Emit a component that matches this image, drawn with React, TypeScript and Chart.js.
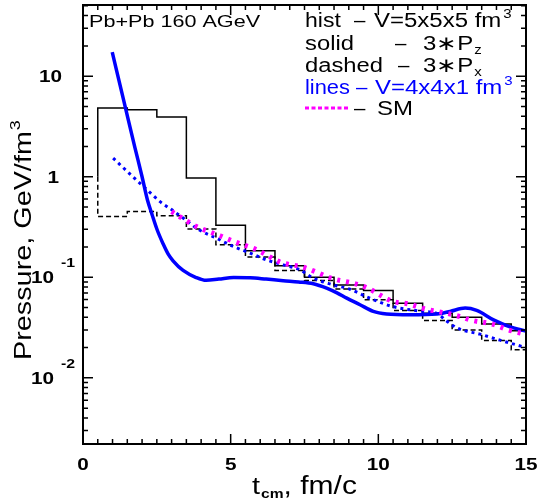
import React, { useEffect, useRef } from 'react';
import { Chart, registerables } from 'chart.js';
Chart.register(...registerables);

// ---------- data ----------
const X_MIN = 0;
const X_MAX = 15;
const Y_MIN = 0.0022;
const Y_MAX = 51;

const binStarts = [0.5, 1.5, 2.5, 3.5, 4.5, 5.5, 6.5, 7.5, 8.5, 9.5, 10.5, 11.5, 12.5, 13.5, 14.5];
const histEdgeLevel = 1.0;
const pzHist = [4.82, 4.64, 3.93, 0.97, 0.329, 0.184, 0.13, 0.1, 0.084, 0.0738, 0.0553, 0.0438, 0.04, 0.0344, 0.0294];
const pxHist = [0.403, 0.452, 0.409, 0.302, 0.211, 0.159, 0.117, 0.093, 0.0763, 0.0597, 0.0468, 0.0372, 0.03, 0.0235, 0.019];

const tPzLines = [0.99, 1.44, 1.76, 2.0, 2.18, 2.34, 2.51, 2.71, 2.88, 3.05, 3.39, 3.83, 4.17, 4.6, 5.1, 5.66, 6.2, 6.78, 7.3, 7.8, 8.25, 8.6, 8.93, 9.38, 9.83, 10.28, 11.07, 11.98, 12.43, 12.94, 13.33, 13.9, 14.46, 15.0];
const pzLines = [17.3, 4.8, 1.94, 1.0, 0.59, 0.419, 0.297, 0.216, 0.171, 0.146, 0.117, 0.0995, 0.0933, 0.096, 0.0995, 0.099, 0.096, 0.0925, 0.09, 0.0863, 0.078, 0.07, 0.0621, 0.0534, 0.0458, 0.0432, 0.0424, 0.0432, 0.0458, 0.0494, 0.0468, 0.0377, 0.0321, 0.0292];

const tPxLines = [1.02, 1.69, 2.2, 2.6, 3.05, 3.39, 3.9, 4.52, 5.05, 5.66, 6.21, 6.78, 7.34, 7.8, 8.48, 9.04, 9.6, 10.5, 11.4, 12.0, 12.3, 12.7, 13.44, 14.12, 15.0];
const pxLines = [1.53, 1.0, 0.726, 0.568, 0.459, 0.388, 0.3, 0.245, 0.205, 0.174, 0.149, 0.133, 0.119, 0.098, 0.084, 0.076, 0.064, 0.051, 0.0462, 0.0435, 0.037, 0.031, 0.0272, 0.0237, 0.02];

const tSM = [3.0, 3.84, 4.64, 5.09, 5.88, 6.67, 7.5, 8.5, 9.15, 9.6, 10.5, 11.0, 11.64, 12.0, 12.77, 13.1, 13.9, 14.4, 15.0];
const smValues = [0.45, 0.32, 0.259, 0.228, 0.188, 0.142, 0.125, 0.096, 0.0874, 0.079, 0.0575, 0.0545, 0.048, 0.0458, 0.0407, 0.0377, 0.034, 0.03, 0.027];

const xTickValues = [0, 5, 10, 15];
const xTickLabels = ['0', '5', '10', '15'];
const yTickValues = [10, 1, 0.1, 0.01];
const yTickBases = ['10', '1', '10', '10'];
const yTickExps = ['', '', '-1', '-2'];

const titleText = 'Pb+Pb 160 AGeV';
const yTitle = 'Pressure, GeV/fm';
const yTitleSup = '3';
const legendNames = ['hist', 'solid', 'dashed', 'lines', ''];
const legendDescs = ['V=5x5x5 fm', '3\u2217P', '3\u2217P', 'V=4x4x1 fm', 'SM'];
const legendSubs = ['', 'z', 'x', '', ''];
const legendSups = ['3', '', '', '3', ''];
const legendColors = ['#000000', '#000000', '#000000', '#0000ff', '#000000'];

const BLUE = '#0000ff';
const MAGENTA = '#ff00ff';

// ---------- helpers ----------
const FONT = '"Liberation Sans", Arial, Helvetica, sans-serif';

function drawText(
  ctx: CanvasRenderingContext2D,
  s: string,
  x: number,
  y: number,
  size: number,
  o: { bold?: boolean; color?: string; sx?: number; align?: CanvasTextAlign } = {}
) {
  const sx = o.sx ?? 1;
  ctx.save();
  ctx.font = `${o.bold ? 'bold ' : ''}${size}px ${FONT}`;
  ctx.fillStyle = o.color ?? '#000';
  ctx.textAlign = o.align ?? 'left';
  ctx.textBaseline = 'alphabetic';
  ctx.translate(x, y);
  ctx.scale(sx, 1);
  ctx.fillText(s, 0, 0);
  const w = ctx.measureText(s).width * sx;
  ctx.restore();
  return w;
}

function histPoints(vals: number[]) {
  const pts = [{ x: binStarts[0], y: histEdgeLevel }];
  vals.forEach((v, i) => pts.push({ x: binStarts[i], y: v }));
  pts.push({ x: X_MAX, y: vals[vals.length - 1] });
  return pts;
}

function curvePoints(ts: number[], vs: number[]) {
  return ts.map((t, i) => ({ x: t, y: vs[i] }));
}

const framePlugin = {
  id: 'rootFrame',
  afterDraw(chart: any) {
    const ctx: CanvasRenderingContext2D = chart.ctx;
    const { left, right, top, bottom } = chart.chartArea;
    const xs = chart.scales.x;
    const ys = chart.scales.y;

    ctx.save();
    ctx.strokeStyle = '#000';
    ctx.lineWidth = 2;
    ctx.strokeRect(left, top, right - left, bottom - top);

    ctx.lineWidth = 1.5;
    ctx.beginPath();
    for (let i = 0; i <= 30; i++) {
      const v = i * 0.5;
      const px = xs.getPixelForValue(v);
      const len = i % 10 === 0 ? 10 : 5;
      ctx.moveTo(px, bottom);
      ctx.lineTo(px, bottom - len);
      ctx.moveTo(px, top);
      ctx.lineTo(px, top + len);
    }
    for (let e = -3; e <= 1; e++) {
      for (let k = 1; k <= 9; k++) {
        const v = k * Math.pow(10, e);
        if (v < Y_MIN || v > Y_MAX) continue;
        const py = ys.getPixelForValue(v);
        const len = k === 1 ? 10 : 5;
        ctx.moveTo(left, py);
        ctx.lineTo(left + len, py);
        ctx.moveTo(right, py);
        ctx.lineTo(right - len, py);
      }
    }
    ctx.stroke();
    ctx.restore();

    const sxT = 1.22;
    xTickValues.forEach((v, i) => {
      drawText(ctx, xTickLabels[i], xs.getPixelForValue(v), 470, 17, { bold: true, sx: sxT, align: 'center' });
    });
    yTickValues.forEach((v, i) => {
      const py = ys.getPixelForValue(v);
      if (yTickExps[i]) {
        drawText(ctx, yTickBases[i], 54, py + 6, 17, { bold: true, sx: sxT, align: 'right' });
        drawText(ctx, yTickExps[i], 61, py - 10, 13, { bold: true, sx: sxT });
      } else {
        const rx = yTickBases[i].length > 1 ? 62 : 59;
        drawText(ctx, yTickBases[i], rx, py + 6, 17, { bold: true, sx: sxT, align: 'right' });
      }
    });

    // y title
    ctx.save();
    ctx.translate(31, 360);
    ctx.rotate(-Math.PI / 2);
    const wy = drawText(ctx, yTitle, 0, 0, 24, { sx: 1.2 });
    drawText(ctx, yTitleSup, wy + 1, -11, 15, { sx: 1.2 });
    ctx.restore();

    // x title
    const wt = drawText(ctx, 't', 252, 494, 24, { sx: 1.2 });
    const wc = drawText(ctx, 'cm', 252 + wt + 1, 498, 13, { bold: true, sx: 1.2 });
    drawText(ctx, ', fm/c', 252 + wt + 1 + wc, 494, 25, { sx: 1.2 });

    // title text
    drawText(ctx, titleText, 89, 27, 17, { sx: 1.27 });

    // legend
    const baselines = [27, 50, 72, 94, 115];
    const nameSx = [1.18, 1.22, 1.22, 1.12, 1.18];
    const dashXs = [354, 395, 398, 356, 354];
    const descXs = [374, 423, 423, 375, 377];
    const LS = 19.5;
    legendNames.forEach((name, i) => {
      const col = legendColors[i];
      const y = baselines[i];
      if (name) drawText(ctx, name, 305, y, LS, { sx: nameSx[i], color: col });
      drawText(ctx, '\u2013', dashXs[i], y, LS, { sx: 1.05, color: col });
      const w = drawText(ctx, legendDescs[i], descXs[i], y, LS, { sx: 1.23, color: col });
      if (legendSubs[i]) drawText(ctx, legendSubs[i], descXs[i] + w + 1, y + 4, 12, { sx: 1.25, color: col });
      if (legendSups[i]) drawText(ctx, legendSups[i], descXs[i] + w + 2, y - 9, 12, { sx: 1.25, color: col });
    });
    ctx.save();
    ctx.strokeStyle = MAGENTA;
    ctx.lineWidth = 3;
    ctx.setLineDash([4, 2.5]);
    ctx.beginPath();
    ctx.moveTo(305, 108);
    ctx.lineTo(348, 108);
    ctx.stroke();
    ctx.restore();
  },
};

export default function App() {
  const ref = useRef<HTMLCanvasElement | null>(null);
  useEffect(() => {
    if (!ref.current) return;
    const chart = new Chart(ref.current, {
      type: 'line',
      data: {
        datasets: [
          {
            label: 'SM',
            data: curvePoints(tSM, smValues),
            borderColor: MAGENTA,
            borderWidth: 5,
            borderDash: [3, 6],
            pointRadius: 0,
            cubicInterpolationMode: 'monotone',
            fill: false,
            order: 1,
          },
          {
            label: '3*Px lines',
            data: curvePoints(tPxLines, pxLines),
            borderColor: BLUE,
            borderWidth: 3,
            borderDash: [3, 4],
            pointRadius: 0,
            cubicInterpolationMode: 'monotone',
            fill: false,
            order: 2,
          },
          {
            label: '3*Pz lines',
            data: curvePoints(tPzLines, pzLines),
            borderColor: BLUE,
            borderWidth: 3.5,
            pointRadius: 0,
            cubicInterpolationMode: 'monotone',
            fill: false,
            order: 3,
          },
          {
            label: '3*Pz hist',
            data: histPoints(pzHist),
            borderColor: '#000',
            borderWidth: 1.5,
            pointRadius: 0,
            stepped: 'before',
            fill: false,
            order: 4,
          },
          {
            label: '3*Px hist',
            data: histPoints(pxHist),
            borderColor: '#000',
            borderWidth: 1.5,
            borderDash: [5, 3],
            pointRadius: 0,
            stepped: 'before',
            fill: false,
            order: 5,
          },
        ] as any,
      },
      options: {
        responsive: false,
        animation: false,
        devicePixelRatio: 1,
        layout: { padding: { left: 83, top: 5, right: 23, bottom: 56 } },
        plugins: { legend: { display: false }, tooltip: { enabled: false } },
        scales: {
          x: { type: 'linear', min: X_MIN, max: X_MAX, display: false },
          y: { type: 'logarithmic', min: Y_MIN, max: Y_MAX, display: false },
        },
      },
      plugins: [framePlugin],
    });
    return () => chart.destroy();
  }, []);
  return (
    <canvas
      ref={ref}
      width={549}
      height={500}
      style={{ position: 'absolute', left: 0, top: 0, background: '#fff' }}
    />
  );
}
